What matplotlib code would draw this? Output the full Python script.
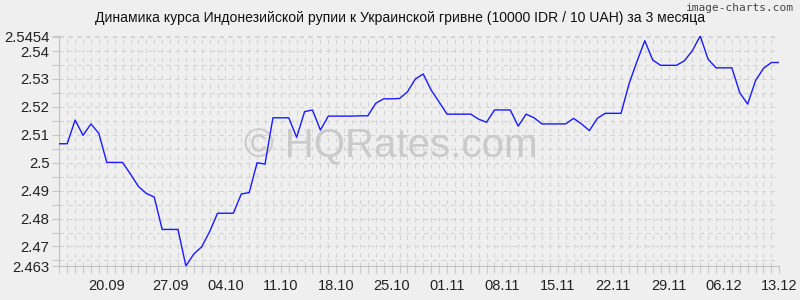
import matplotlib
matplotlib.use("Agg")
import matplotlib.pyplot as plt

# rate for 10000 IDR in 10 UAH, one value per trading point
rates = [
    2.5068, 2.5068, 2.5153, 2.5098, 2.5139, 2.5105, 2.5001, 2.5001, 2.5001, 2.4959,
    2.4915, 2.4890, 2.4877, 2.4761, 2.4761, 2.4761, 2.4630, 2.4673, 2.4699, 2.4753,
    2.4819, 2.4819, 2.4819, 2.4888, 2.4893, 2.5000, 2.4995, 2.5161, 2.5161, 2.5161,
    2.5091, 2.5183, 2.5189, 2.5117, 2.5167, 2.5167, 2.5167, 2.5167, 2.5168, 2.5168,
    2.5213, 2.5229, 2.5229, 2.5230, 2.5254, 2.5300, 2.5318, 2.5260, 2.5218, 2.5174,
    2.5174, 2.5174, 2.5174, 2.5156, 2.5145, 2.5189, 2.5189, 2.5189, 2.5131, 2.5174,
    2.5161, 2.5139, 2.5139, 2.5139, 2.5139, 2.5159, 2.5139, 2.5115, 2.5159, 2.5177,
    2.5177, 2.5177, 2.5282, 2.5362, 2.5437, 2.5368, 2.5349, 2.5349, 2.5349, 2.5365,
    2.5401, 2.5454, 2.5371, 2.5340, 2.5340, 2.5340, 2.5251, 2.5210, 2.5294, 2.5338,
    2.5359, 2.5359,
]

date_labels = ["20.09", "27.09", "04.10", "11.10", "18.10", "25.10", "01.11",
               "08.11", "15.11", "22.11", "29.11", "06.12", "13.12"]
date_index = [6, 14, 21, 28, 35, 42, 49, 56, 63, 70, 77, 84, 91]

y_ticks = [2.463, 2.47, 2.48, 2.49, 2.5, 2.51, 2.52, 2.53, 2.54, 2.5454]
y_labels = ["2.463", "2.47", "2.48", "2.49", "2.5", "2.51", "2.52", "2.53", "2.54", "2.5454"]

title = "Динамика курса Индонезийской рупии к Украинской гривне (10000 IDR / 10 UAH) за 3 месяца"

plt.rcParams["font.family"] = ["Liberation Sans", "DejaVu Sans"]

bg = "#efefef"
fig = plt.figure(figsize=(8, 3), dpi=100, facecolor=bg)
ax = fig.add_axes([59.3 / 800, 1 - 266 / 300, 720 / 800, (266 - 36) / 300])
ax.set_facecolor(bg)

ax.plot(range(len(rates)), rates, color="#1a1aff", lw=1.0, zorder=3)

ax.set_xlim(0, len(rates) - 1)
ax.set_ylim(2.463, 2.5454)

ax.set_xticks(date_index)
ax.set_xticklabels(date_labels, fontsize=10.5, color="#222222")
ax.set_xticks(range(len(rates)), minor=True)
ax.set_yticks(y_ticks)
ax.set_yticklabels(y_labels, fontsize=10.7, color="#222222")
ax.set_yticks([2.465 + 0.005 * k for k in range(17)], minor=True)

ax.tick_params(axis="both", which="both", color="#c8c8c8", length=5, width=0.8)
ax.tick_params(axis="x", which="major", pad=4)
ax.tick_params(axis="y", which="major", pad=2)

grid_style = dict(color="#d4d4d4", lw=0.8, linestyle=(0, (4, 4)))
ax.grid(True, which="both", **grid_style)
ax.set_axisbelow(True)

for side in ["top", "right"]:
    ax.spines[side].set_visible(False)
for side in ["left", "bottom"]:
    ax.spines[side].set_color("#c0c0c0")
    ax.spines[side].set_linewidth(0.8)

ax.text(0.46, 0.52, "© HQRates.com", transform=ax.transAxes, fontsize=29,
        color="#cacaca", ha="center", va="center", zorder=1)

fig.text(0.5, 1 - 18 / 300, title, ha="center", va="center", fontsize=10.1, color="#111111")
fig.text(0.993, 1 - 8 / 300, "image-charts.com", ha="right", va="center",
         fontsize=8, color="#444444", family="DejaVu Sans Mono")

fig.savefig("out.png", dpi=100, facecolor=bg)
